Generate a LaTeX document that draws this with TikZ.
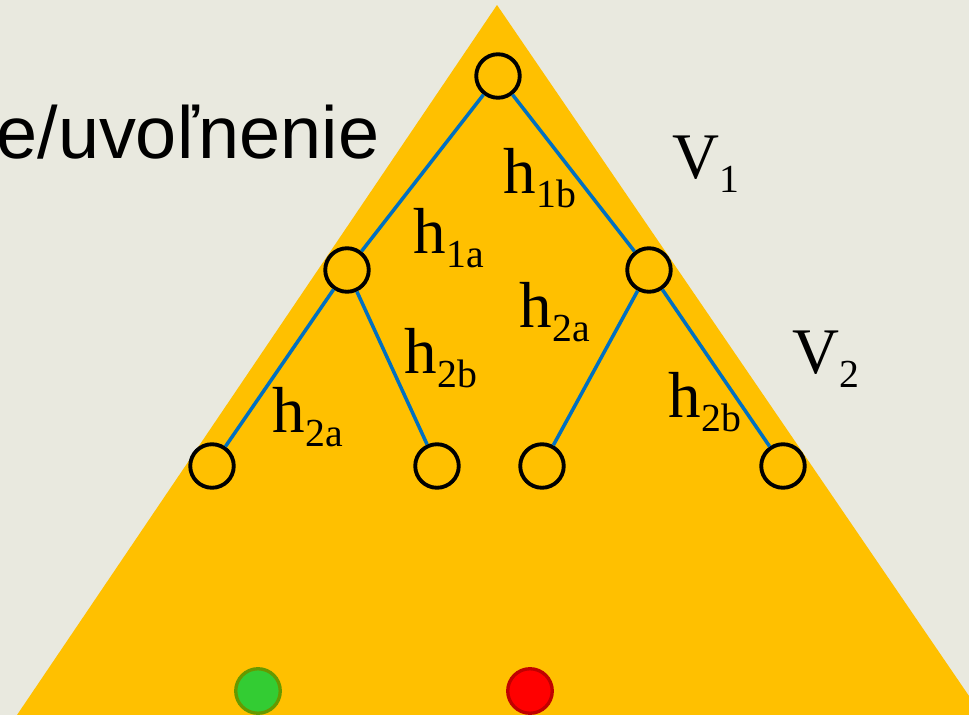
\documentclass[tikz,border=0pt]{standalone}
\usepackage{fontspec}
\setmainfont{Liberation Serif}
\newfontfamily\sansfont{Liberation Sans}
\usetikzlibrary{positioning}
\definecolor{fond}{RGB}{233,233,223}
\definecolor{jaune}{RGB}{255,192,0}
\definecolor{bleu}{RGB}{0,112,192}
\definecolor{vert}{RGB}{51,204,51}
\definecolor{vertfonce}{RGB}{102,153,0}
\definecolor{rouge}{RGB}{255,0,0}
\definecolor{rougefonce}{RGB}{192,0,0}
\newcommand{\lab}[2]{#1\raisebox{-4.2pt}{\fontsize{11.3}{12}\selectfont #2}}

\begin{document}
\begin{tikzpicture}[x=0.01cm, y=-0.01cm,
    noeud/.style={circle, draw=black, line width=1.1pt, minimum size=0.435cm, inner sep=0pt},
    arete/.style={draw=bleu, line width=1pt},
    etiq/.style={anchor=base west, inner sep=0pt, font=\fontsize{18.5}{20}\selectfont},
    point/.style={circle, line width=0.95pt, minimum size=0.445cm, inner sep=0pt}]
    \useasboundingbox (0,0) rectangle (969,715);
    % Fond
    \fill[fond] (0,0) rectangle (969,715);
    \clip (0,0) rectangle (969,715);

    % Triangle
    \fill[jaune] (497,5) -- (982,715) -- (17,715) -- cycle;

    % Titre
    \node[anchor=base east, inner sep=0pt, font=\sansfont\fontsize{21}{24}\selectfont] (titre) at (380,158) {e/uvoľnenie};

    % Noeuds de l'arbre
    \node[noeud] (rac) at (498,76) {};
    \node[noeud] (g) at (347,270) {};
    \node[noeud] (d) at (649,270) {};
    \node[noeud] (gg) at (212,466) {};
    \node[noeud] (gd) at (437,466) {};
    \node[noeud] (dg) at (542,466) {};
    \node[noeud] (dd) at (783,466) {};

    % Aretes
    \draw[arete] (rac) -- (g);
    \draw[arete] (rac) -- (d);
    \draw[arete] (g) -- (gg);
    \draw[arete] (g) -- (gd);
    \draw[arete] (d) -- (dg);
    \draw[arete] (d) -- (dd);

    % Etiquettes
    \node[etiq] (h1b) at (503,193) {\lab{h}{1b}};
    \node[etiq] (v1) at (672,178) {\lab{V}{1}};
    \node[etiq] (h1a) at (413,253) {\lab{h}{1a}};
    \node[etiq] (h2ad) at (519,327) {\lab{h}{2a}};
    \node[etiq] (h2bg) at (404,373) {\lab{h}{2b}};
    \node[etiq] (v2) at (792,373) {\lab{V}{2}};
    \node[etiq] (h2ag) at (272,432) {\lab{h}{2a}};
    \node[etiq] (h2bd) at (668,417) {\lab{h}{2b}};

    % Points
    \node[point, fill=vert, draw=vertfonce] (pv) at (258,691) {};
    \node[point, fill=rouge, draw=rougefonce] (pr) at (530,691) {};
\end{tikzpicture}
\end{document}
